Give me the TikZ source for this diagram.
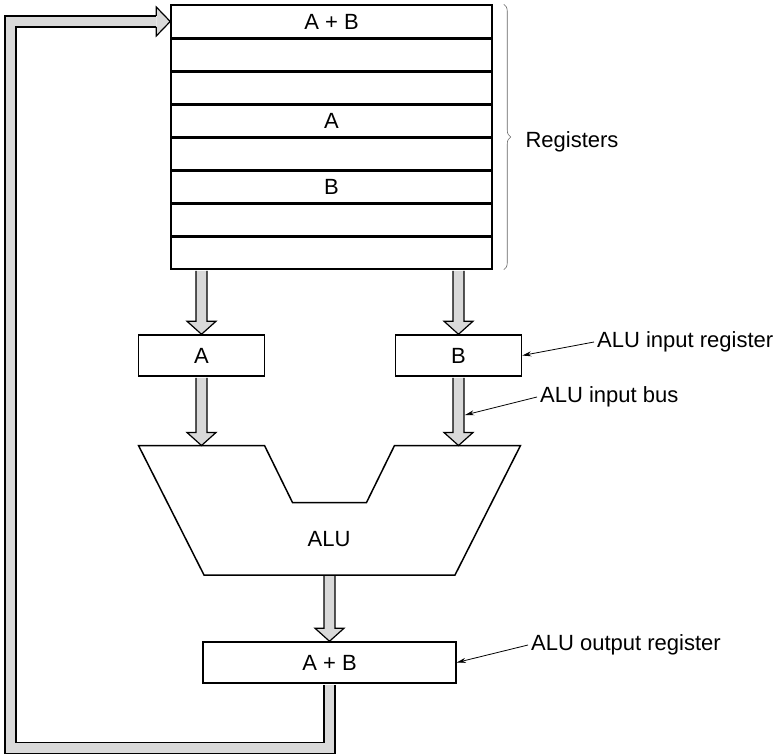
\documentclass[tikz,border=0pt]{standalone}
\usepackage{fontspec}
\setmainfont{Liberation Sans}
\usepackage{tikz}
\usetikzlibrary{arrows.meta, calc, decorations.pathreplacing}

% wide bus arrow pointing down
\newcommand{\busarrow}[2]{%
	\draw[bus] let \p1=(#1), \p2=(#2) in
		(\x1-5.5pt,\y1-1pt) -- (\x1-5.5pt,\y2+13pt) -- (\x1-14.5pt,\y2+13pt) -- (\x1,\y2)
		-- (\x1+14.5pt,\y2+13pt) -- (\x1+5.5pt,\y2+13pt) -- (\x1+5.5pt,\y1-1pt);}

\begin{document}
\begin{tikzpicture}[x=1pt, y=-1pt,
		font=\fontsize{22}{26}\selectfont,
		box/.style={draw, line width=1.5pt, minimum height=41pt, inner sep=0pt},
		regrow/.style={draw, line width=1.5pt, minimum width=321pt, minimum height=33pt, inner sep=0pt},
		bus/.style={draw, line width=1.2pt, fill=black!15, line join=miter},
		note/.style={anchor=west, inner sep=3pt},
		pointer/.style={line width=0.8pt, -{Stealth[length=9pt, width=5pt]}}]
		\useasboundingbox (0,0) rectangle (778,754);

		% Registers
		\foreach \i/\t in {1/A + B, 2/, 3/, 4/A, 5/, 6/B, 7/, 8/}
			\node[regrow] (r\i) at (331.5, 33*\i-11.5) {\t};
		\foreach \i in {1,...,7}
			\draw[line width=2.4pt] (r\i.south west) -- (r\i.south east);
		\draw[decorate, decoration={brace, amplitude=7pt}, line width=0.6pt, black!60]
			([xshift=11pt]r1.north east) -- ([xshift=11pt]r8.south east);
		\node[anchor=west] (regs) at (522,142) {Registers};

		% ALU input registers
		\node[box, minimum width=126pt] (ina) at (201.5,355.5) {A};
		\node[box, minimum width=126pt] (inb) at (458.5,355.5) {B};

		% ALU
		\draw[line width=1.5pt] (138.5,445.5) -- (264.5,445.5) -- (292.5,502.5) -- (366.5,502.5)
			-- (394.5,445.5) -- (520.5,445.5) -- (455,575) -- (204,575) -- cycle;
		\node (alu) at (329,539) {ALU};
		\coordinate (alua) at (201.5,445.5);
		\coordinate (alub) at (458.5,445.5);
		\coordinate (alubot) at (329.5,575);

		% Output register
		\node[box, minimum width=253pt] (out) at (329.5,662.5) {A + B};

		% Buses
		\busarrow{r8.south -| ina.north}{ina.north}
		\busarrow{r8.south -| inb.north}{inb.north}
		\busarrow{ina.south}{alua}
		\busarrow{inb.south}{alub}
		\busarrow{alubot}{out.north}

		% Feedback bus
		\coordinate (fb) at (10.5,748);
		\draw[line width=1.2pt, double=black!15, double distance=9.8pt]
			([yshift=-1pt]out.south) |- (fb) |- ([xshift=-14pt]r1.west);
		\draw[bus] let \p1=(r1.west) in
			(\x1-14pt,\y1+5.5pt) -- (\x1-14pt,\y1+14.5pt) -- (\x1,\y1)
			-- (\x1-14pt,\y1-14.5pt) -- (\x1-14pt,\y1-5.5pt);

		% Labels
		\node[note] (lreg) at (594,342) {ALU input register};
		\draw[pointer] (lreg.west) -- (inb.east);
		\node[note] (lbus) at (537,397) {ALU input bus};
		\coordinate (busb) at (465,415);
		\draw[pointer] (lbus.west) -- (busb);
		\node[note] (lout) at (528,645) {ALU output register};
		\draw[pointer] (lout.west) -- (out.east);
	\end{tikzpicture}
\end{document}
